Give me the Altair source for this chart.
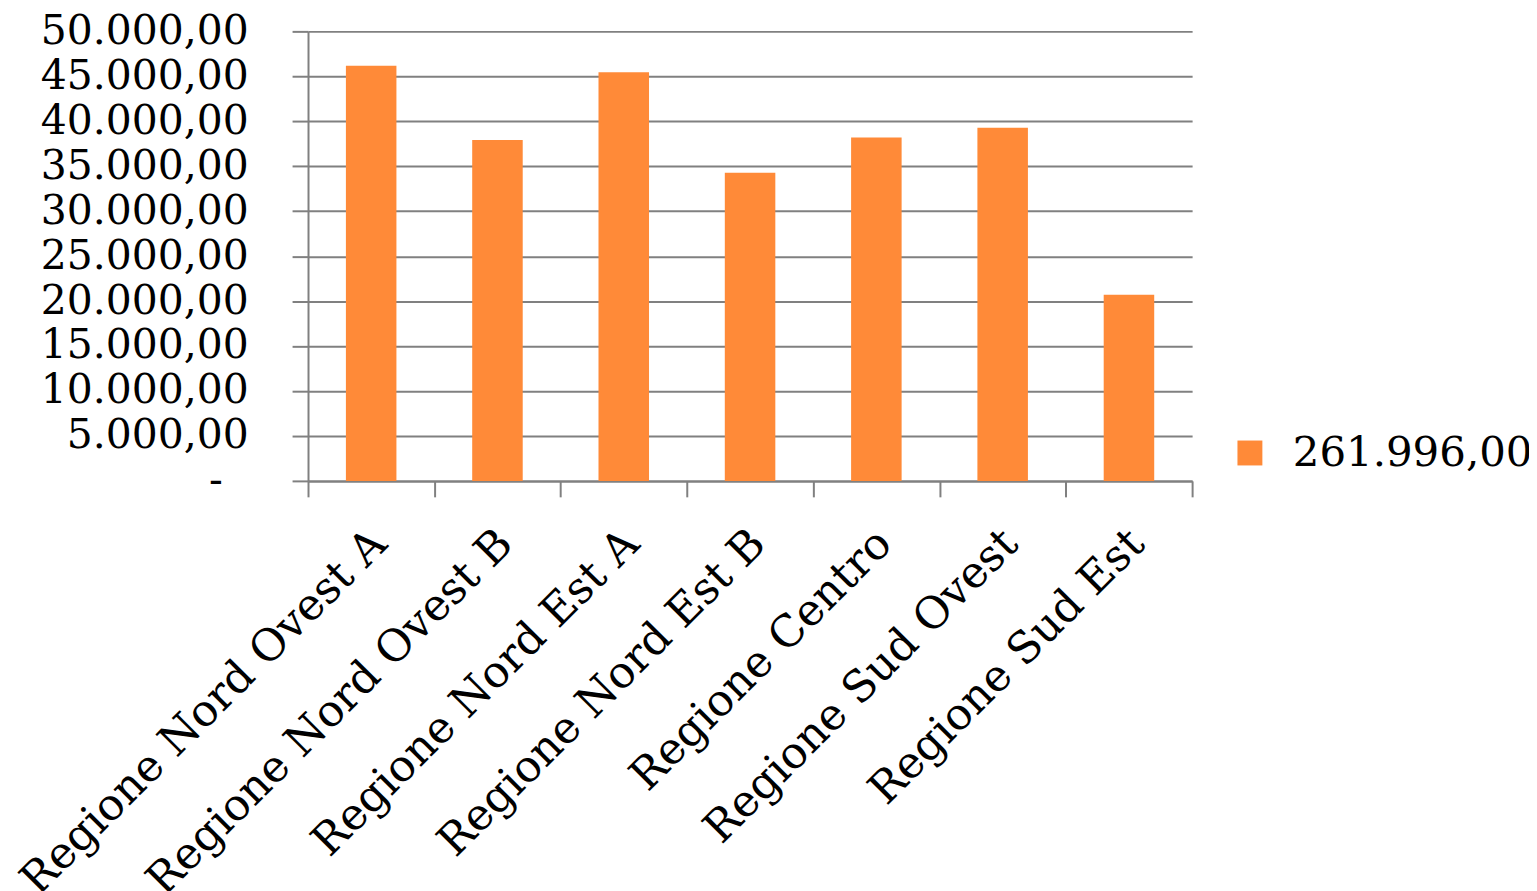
import altair as alt
import pandas as pd

categories = ["Regione Nord Ovest A", "Regione Nord Ovest B", "Regione Nord Est A",
              "Regione Nord Est B", "Regione Centro", "Regione Sud Ovest", "Regione Sud Est"]
values = [46190, 37910, 45450, 34270, 38190, 39280, 20706]
series_name = "261.996,00"
y_ticks = [0, 5000, 10000, 15000, 20000, 25000, 30000, 35000, 40000, 45000, 50000]

df = pd.DataFrame({"cat": categories, "val": values, "serie": [series_name] * len(categories)})

FONT = "DejaVu Serif"
GRID = "#808080"

label_expr = ("datum.value == 0 ? '-\u00a0\u00a0\u200b' : "
              "replace(replace(replace(format(datum.value, ',.2f'), '.', '|'), regexp(',', 'g'), '.'), '|', ',')")

chart = alt.Chart(df).mark_bar(width=alt.RelativeBandSize(0.4)).encode(
    x=alt.X("cat:N", sort=categories, title=None,
            scale=alt.Scale(paddingInner=0, paddingOuter=0, round=False),
            axis=alt.Axis(labelAngle=-45, labelAlign="right", labelBaseline="middle",
                          labelFont=FONT, labelFontSize=44, labelColor="black",
                          labelPadding=40, labelOffset=8, labelLimit=0,
                          tickBand="extent", tickSize=16, tickColor=GRID, tickWidth=2,
                          domainColor=GRID, domainWidth=2, grid=False)),
    y=alt.Y("val:Q", title=None,
            scale=alt.Scale(domain=[0, 50000], nice=False),
            axis=alt.Axis(values=y_ticks, labelExpr=label_expr,
                          labelFont=FONT, labelFontSize=41, labelColor="black",
                          labelPadding=44, labelLimit=0, tickSize=16, tickColor=GRID, tickWidth=2,
                          domainColor=GRID, domainWidth=2,
                          grid=True, gridColor=GRID, gridWidth=2)),
    fill=alt.Fill("serie:N", title=None,
                  scale=alt.Scale(range=["#FF8A38"]),
                  legend=alt.Legend(orient="none", legendX=924, legendY=402,
                                    symbolType="square", symbolSize=625,
                                    symbolStrokeWidth=0,
                                    labelFont=FONT, labelFontSize=42, labelColor="black",
                                    labelOffset=22, padding=0, labelLimit=0)),
).properties(
    width=887, height=451,
    padding={"left": 301, "top": 22, "right": 338, "bottom": 410},
    autosize=alt.AutoSizeParams(type="none"),
).configure(background="white", view=alt.ViewConfig(stroke=None))

chart.save("out.html", embed_options={"renderer": "svg", "actions": False})
